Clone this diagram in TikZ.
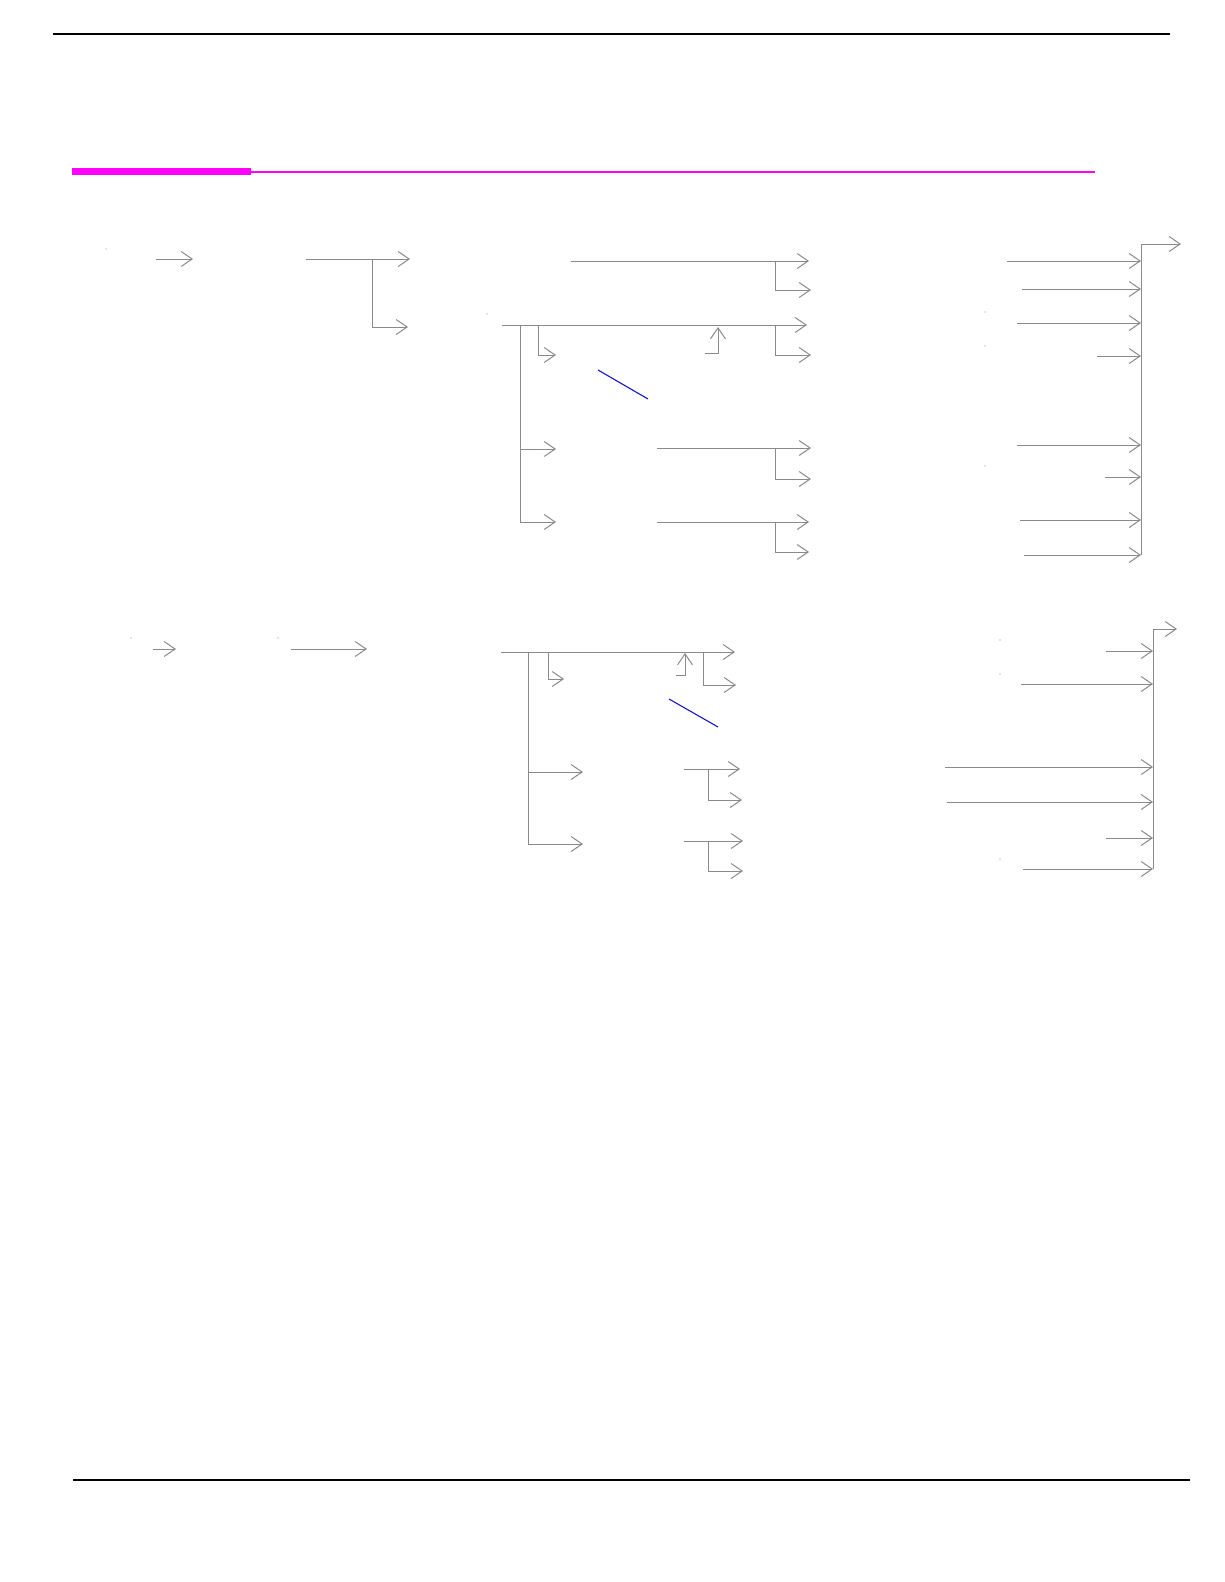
\documentclass[tikz,border=0pt]{standalone}
\usetikzlibrary{arrows.meta}
\definecolor{linegray}{RGB}{138,138,138}
\definecolor{barmagenta}{RGB}{255,0,255}
\definecolor{slashblue}{RGB}{20,20,200}

\begin{document}
\begin{tikzpicture}[x=1pt,y=-1pt,
    conn/.style={draw=linegray,line width=1pt,-{Straight Barb[length=11,width=15,line width=1pt]}},
    wire/.style={draw=linegray,line width=1pt},
    speck/.style={fill=linegray,draw=none}]
    \useasboundingbox (0,0) rectangle (1224,1582);
    % rules
    \draw[line width=1.4pt] (53,34)--(1170,34);
    \draw[line width=1.4pt] (73,1480)--(1190,1480);
    \fill[barmagenta] (72,168) rectangle (251,175);
    \draw[barmagenta,line width=2pt] (251,172)--(1095,172);

    % upper chart
    \fill[speck] (106,249) circle (0.6);
    \fill[speck] (487,314) circle (0.6);
    \fill[speck] (985,312) circle (0.6);
    \fill[speck] (985,346) circle (0.6);
    \fill[speck] (985,466) circle (0.6);
    \draw[conn] (156,259)--(193,259);
    \draw[conn] (306,259)--(410,259);
    \draw[conn] (372,259)--(372,327)--(408,327);
    \draw[conn] (571,261)--(809,261);
    \draw[conn] (775,261)--(775,290)--(811,290);
    \draw[conn] (502,325)--(807,325);
    \draw[wire] (520,325)--(520,522);
    \draw[conn] (538,325)--(538,355)--(556,355);
    \draw[conn] (705,353)--(718,353)--(718,327);
    \draw[conn] (775,325)--(775,355)--(811,355);
    \draw[slashblue,line width=1.1pt] (598,370)--(648,399);
    \draw[conn] (520,449)--(556,449);
    \draw[conn] (657,448)--(811,448);
    \draw[conn] (775,448)--(775,479)--(811,479);
    \draw[conn] (520,522)--(556,522);
    \draw[conn] (657,522)--(809,522);
    \draw[conn] (775,522)--(775,552)--(809,552);
    \draw[conn] (1141,555)--(1141,244)--(1181,244);
    \draw[conn] (1007,261)--(1141,261);
    \draw[conn] (1022,289)--(1141,289);
    \draw[conn] (1017,323)--(1141,323);
    \draw[conn] (1097,356)--(1141,356);
    \draw[conn] (1017,445)--(1141,445);
    \draw[conn] (1105,477)--(1141,477);
    \draw[conn] (1020,520)--(1141,520);
    \draw[conn] (1024,555)--(1141,555);

    % lower chart
    \fill[speck] (131,638) circle (0.6);
    \fill[speck] (278,638) circle (0.6);
    \fill[speck] (1000,640) circle (0.6);
    \fill[speck] (1000,674) circle (0.6);
    \fill[speck] (1000,859) circle (0.6);
    \draw[conn] (153,649)--(176,649);
    \draw[conn] (291,649)--(367,649);
    \draw[conn] (501,652)--(735,652);
    \draw[wire] (528,652)--(528,844);
    \draw[conn] (548,652)--(548,679)--(564,679);
    \draw[conn] (676,675)--(685,675)--(685,653);
    \draw[conn] (703,652)--(703,685)--(736,685);
    \draw[slashblue,line width=1.1pt] (669,699)--(718,727);
    \draw[conn] (528,772)--(583,772);
    \draw[conn] (684,769)--(740,769);
    \draw[conn] (708,769)--(708,800)--(742,800);
    \draw[conn] (528,844)--(583,844);
    \draw[conn] (684,841)--(743,841);
    \draw[conn] (708,841)--(708,871)--(743,871);
    \draw[conn] (1153,869)--(1153,629)--(1177,629);
    \draw[conn] (1106,651)--(1153,651);
    \draw[conn] (1021,684)--(1153,684);
    \draw[conn] (945,767)--(1153,767);
    \draw[conn] (947,802)--(1153,802);
    \draw[conn] (1106,838)--(1153,838);
    \draw[conn] (1023,869)--(1153,869);
\end{tikzpicture}
\end{document}
